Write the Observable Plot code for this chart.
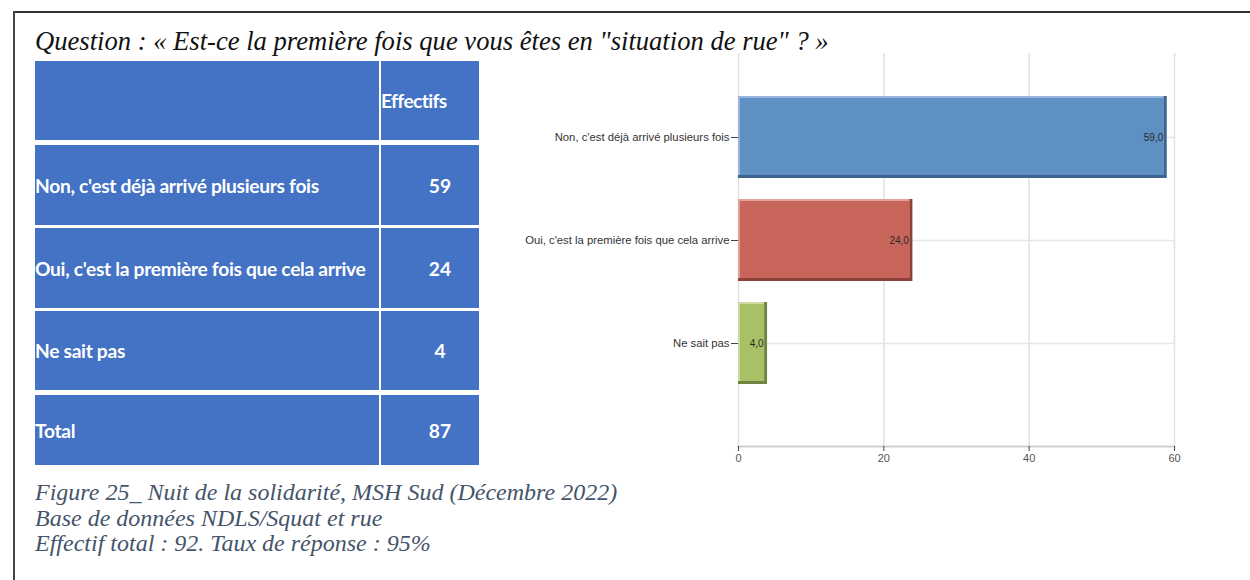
<!DOCTYPE html>
<html><head><meta charset="utf-8">
<script src="https://cdn.jsdelivr.net/npm/d3@7"></script>
<script src="https://cdn.jsdelivr.net/npm/@observablehq/plot@0.6"></script>
<style>
body{margin:0;background:#fff;}
#page{position:relative;width:1250px;height:580px;overflow:hidden;background:#fff;}
.bt{position:absolute;left:14px;top:11px;width:1240px;height:2px;background:#333;}
.bl{position:absolute;left:13px;top:11px;width:2px;height:580px;background:#444;}
#title{position:absolute;left:35px;top:25px;font-family:"Liberation Serif",serif;font-style:italic;font-size:26.6px;line-height:32px;color:#111;white-space:nowrap;z-index:2;}
#chart{position:absolute;left:500px;top:0;}
#tbl{position:absolute;left:35px;top:61px;width:444px;font-family:Lato,"Open Sans",sans-serif;font-weight:700;color:#fff;font-size:19.2px;}
.row{display:flex;background:#4472C4;height:80px;align-items:center;}
.c1{width:344px;height:100%;display:flex;align-items:center;border-right:2px solid #fff;box-sizing:content-box;white-space:nowrap;letter-spacing:-0.3px;}
.c2{flex:1;height:100%;display:flex;align-items:center;justify-content:center;padding-left:20px;}
#caption{position:absolute;left:35px;top:480px;font-family:"Liberation Serif",serif;font-style:italic;font-size:24px;line-height:25.5px;color:#44546A;white-space:nowrap;}
</style></head><body>
<div id="page">
  <div class="bt"></div><div class="bl"></div>
  <div id="chart"></div>
  <div id="title"></div>
  <div id="tbl"></div>
  <div id="caption"></div>
</div>
<script>
const titleText = "Question : « Est-ce la première fois que vous êtes en \"situation de rue\" ? »";
const categories = ["Non, c'est déjà arrivé plusieurs fois", "Oui, c'est la première fois que cela arrive", "Ne sait pas"];
const counts = [59, 24, 4];
const tableHeader = "Effectifs";
const totalLabel = "Total";
const totalCount = 87;
const xTicks = [0, 20, 40, 60];
const captionLines = [
  "Figure 25_ Nuit de la solidarité, MSH Sud (Décembre 2022)",
  "Base de données NDLS/Squat et rue",
  "Effectif total : 92. Taux de réponse : 95%"
];

document.getElementById("title").textContent = titleText;
document.getElementById("caption").innerHTML = captionLines.map(l => `<div>${l}</div>`).join("");

// Table built from the arrays
const tbl = document.getElementById("tbl");
const rows = [["", tableHeader], ...categories.map((c, i) => [c, String(counts[i])]), [totalLabel, String(totalCount)]];
const gaps = [5, 3, 3, 5, 0];
const heights = [79, 80, 80, 79, 70];
rows.forEach((r, i) => {
  const d = document.createElement("div");
  d.className = "row";
  d.style.height = heights[i] + "px";
  d.style.marginBottom = gaps[i] + "px";
  const a = document.createElement("div"); a.className = "c1"; a.textContent = r[0];
  const b = document.createElement("div"); b.className = "c2"; b.textContent = r[1];
  if (i === 0) { b.style.justifyContent = "flex-start"; b.style.paddingLeft = "0"; b.style.letterSpacing = "-0.6px"; }
  d.appendChild(a); d.appendChild(b);
  tbl.appendChild(d);
});

const data = categories.map((c, i) => ({cat: c, value: counts[i]}));
const shades = {
  [categories[0]]: {main: "#5E90C4", dark: "#3E638E", light: "#97B5DA"},
  [categories[1]]: {main: "#C8655A", dark: "#8E4139", light: "#DFA19A"},
  [categories[2]]: {main: "#A8C166", dark: "#6F8542", light: "#CBDB9E"}
};
const fmt = v => v.toFixed(1).replace(".", ",");

const chart = Plot.plot({
  width: 750,
  height: 480,
  marginLeft: 238,
  marginRight: 76,
  marginTop: 53,
  marginBottom: 34,
  style: {background: "transparent", fontFamily: "'Liberation Sans', Arial, sans-serif", color: "#333"},
  x: {domain: [0, 60], ticks: xTicks, label: null},
  y: {domain: categories, range: [75.2, 404.8], padding: 0.2, label: null},
  marks: [
    Plot.ruleX(xTicks, {stroke: "#e2e2e2", strokeWidth: 1.5}),
    Plot.ruleY(categories, {y: d => d, stroke: "#e6e6e6", strokeWidth: 1.5}),
    Plot.frame({anchor: "bottom", stroke: "#cfcfcf", strokeWidth: 2}),
    Plot.barX(data, {x: "value", y: "cat", fill: d => shades[d.cat].dark}),
    Plot.barX(data, {x: "value", y: "cat", fill: d => shades[d.cat].light, insetRight: 3, insetBottom: 3}),
    Plot.barX(data, {x: "value", y: "cat", fill: d => shades[d.cat].main, insetRight: 3, insetBottom: 3, insetTop: 2, insetLeft: 2}),
    Plot.text(data, {x: "value", y: "cat", text: d => fmt(d.value), textAnchor: "end", dx: -4, fontSize: 10, fill: "#2a2a2a"}),
    Plot.axisY({tickSize: 7, tickPadding: 2, fontSize: 11.3, stroke: "#444", color: "#333"}),
    Plot.axisX({ticks: xTicks, tickSize: 5, tickPadding: 3, fontSize: 11, color: "#555", stroke: "#444"})
  ]
});
document.getElementById("chart").appendChild(chart);
</script>
</body></html>
